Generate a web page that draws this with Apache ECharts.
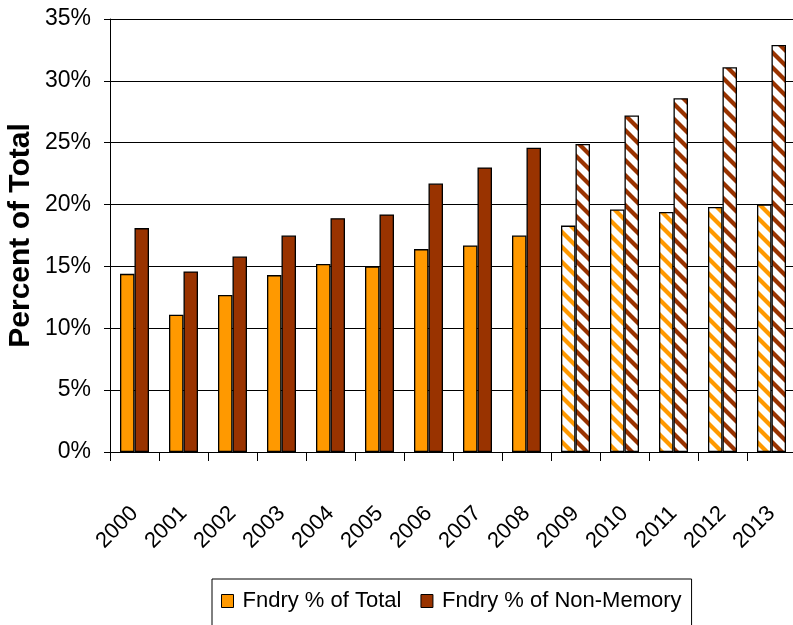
<!DOCTYPE html>
<html>
<head>
<meta charset="utf-8">
<script src="https://cdn.jsdelivr.net/npm/echarts@6/dist/echarts.min.js"></script>
<style>
  html, body { margin: 0; padding: 0; background: #fff; }
  #chart { width: 793px; height: 625px; }
</style>
</head>
<body>
<div id="chart"></div>
<script>
// Foundry share of semiconductor sales, by year
const years = ['2000', '2001', '2002', '2003', '2004', '2005', '2006',
               '2007', '2008', '2009', '2010', '2011', '2012', '2013'];
const fndryOfTotal =     [14.4, 11.1, 12.7, 14.3, 15.2, 15.0, 16.4, 16.7, 17.5, 18.3, 19.6, 19.4, 19.8, 20.0];
const fndryOfNonMemory = [18.1, 14.6, 15.8, 17.5, 18.9, 19.2, 21.7, 23.0, 24.6, 24.9, 27.2, 28.6, 31.1, 32.9];
const seriesNames = ['Fndry % of Total', 'Fndry % of Non-Memory'];
const firstProjectedYear = '2009';
const yTicks = [0, 5, 10, 15, 20, 25, 30, 35];

const ORANGE = '#FF9900';
const BROWN = '#993300';
const FONT = '"Liberation Sans", Arial, sans-serif';

// Diagonal stripe fill for projected years
function stripes(color) {
  const size = 15;
  const c = document.createElement('canvas');
  c.width = size; c.height = size;
  const ctx = c.getContext('2d');
  ctx.fillStyle = '#fff';
  ctx.fillRect(0, 0, size, size);
  ctx.strokeStyle = color;
  ctx.lineWidth = 4.2;
  for (let k = -size; k <= size; k += size) {
    ctx.beginPath();
    ctx.moveTo(k - 2, -2);
    ctx.lineTo(k + size + 2, size + 2);
    ctx.stroke();
  }
  return { image: c, repeat: 'repeat' };
}

function withHatch(values, color) {
  const hatch = stripes(color);
  return values.map((v, i) => years[i] >= firstProjectedYear
    ? { value: v, itemStyle: { color: hatch } }
    : v);
}

const chart = echarts.init(document.getElementById('chart'));
chart.setOption({
  animation: false,
  backgroundColor: '#fff',
  grid: { left: 110, top: 19, width: 686, bottom: 173, containLabel: false, outerBoundsMode: 'none' },
  legend: {
    data: seriesNames,
    left: 212, top: 579,
    padding: [11, 10, 20, 9],
    itemGap: 19,
    itemWidth: 12, itemHeight: 13,
    icon: 'rect',
    borderColor: '#000', borderWidth: 1,
    itemStyle: { borderColor: '#000', borderWidth: 1 },
    textStyle: { fontFamily: FONT, fontSize: 22, color: '#000', padding: [0, 0, 0, 4] }
  },
  xAxis: {
    type: 'category',
    data: years,
    boundaryGap: true,
    axisLine: { lineStyle: { color: '#000', width: 1 } },
    axisTick: { show: true, length: 9, alignWithLabel: false, lineStyle: { color: '#000' } },
    axisLabel: { rotate: 45, margin: 58, fontFamily: FONT, fontSize: 22, color: '#000', interval: 0 }
  },
  yAxis: {
    type: 'value',
    min: yTicks[0], max: yTicks[yTicks.length - 1], interval: yTicks[1] - yTicks[0],
    name: 'Percent of Total',
    nameLocation: 'middle',
    nameRotate: 90,
    nameGap: 74,
    nameMoveOverlap: false,
    nameTextStyle: { fontFamily: FONT, fontWeight: 'bold', fontSize: 30, color: '#000' },
    axisLine: { show: true, lineStyle: { color: '#000', width: 1 } },
    axisTick: { show: true, length: 6, lineStyle: { color: '#000' } },
    axisLabel: { formatter: '{value}%', margin: 19, fontFamily: FONT, fontSize: 23, color: '#000' },
    splitLine: { show: true, lineStyle: { color: '#000', width: 1 } }
  },
  series: [
    {
      name: seriesNames[0], type: 'bar',
      data: withHatch(fndryOfTotal, ORANGE),
      barWidth: 14.5, barGap: '0%',
      itemStyle: { color: ORANGE, borderColor: '#000', borderWidth: 1.3 }
    },
    {
      name: seriesNames[1], type: 'bar',
      data: withHatch(fndryOfNonMemory, BROWN),
      barWidth: 14.5, barGap: '0%',
      itemStyle: { color: BROWN, borderColor: '#000', borderWidth: 1.3 }
    }
  ]
});
</script>
</body>
</html>
